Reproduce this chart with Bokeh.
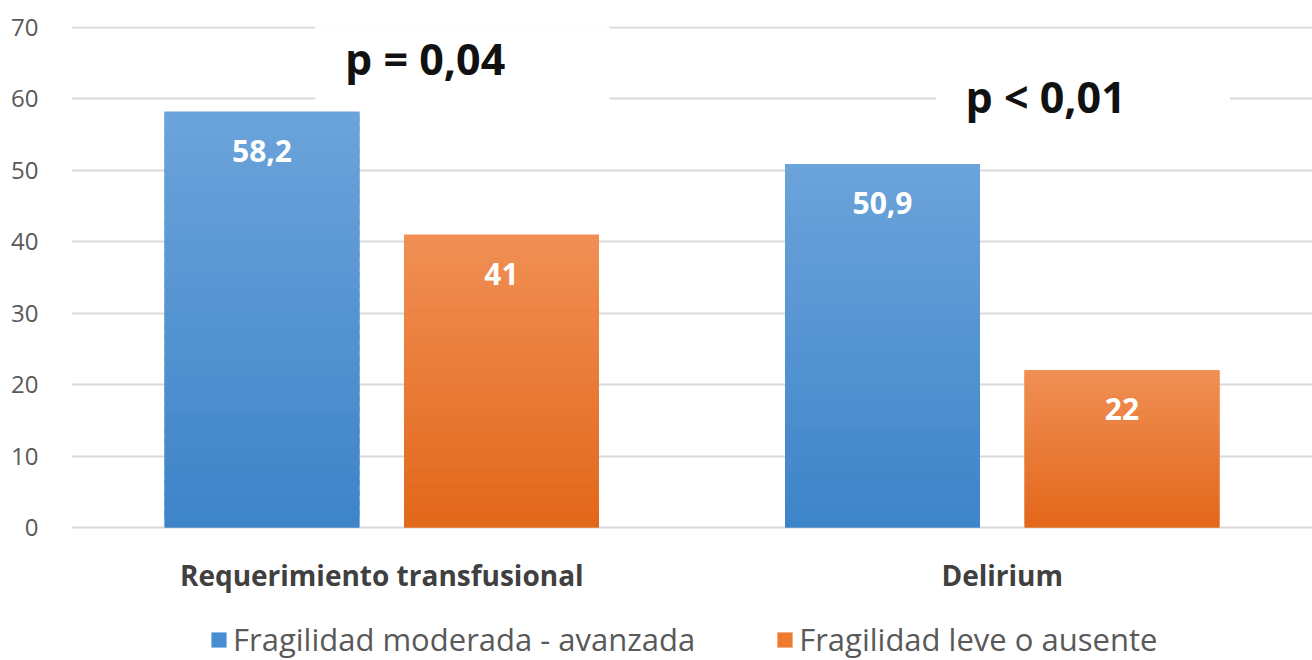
from bokeh.plotting import figure
from bokeh.models import ColumnDataSource, FactorRange, Legend, LegendItem, FixedTicker, Range1d
from bokeh.transform import dodge
from bokeh.core.properties import value
from bokeh.embed import file_html
from bokeh.resources import INLINE

# ---- data ----
categories = ["Requerimiento transfusional", "Delirium"]
series_names = ["Fragilidad moderada - avanzada", "Fragilidad leve o ausente"]
moderada = [58.2, 50.9]
leve = [41, 22]
p_labels = ["p = 0,04", "p < 0,01"]
y_ticks = [0, 10, 20, 30, 40, 50, 60, 70]

FONT = "Open Sans"

def fmt(v):
    return f"{v:g}".replace(".", ",")

def hex2rgb(h):
    h = h.lstrip("#")
    return tuple(int(h[i:i + 2], 16) for i in (0, 2, 4))

def lerp(c1, c2, t):
    a, b = hex2rgb(c1), hex2rgb(c2)
    return "#%02x%02x%02x" % tuple(int(round(a[i] + (b[i] - a[i]) * t)) for i in range(3))

# frame spans down to the bottom of the canvas so the legend can sit under the categories
p = figure(x_range=FactorRange(*categories), y_range=Range1d(-18.62, 70.14),
           width=1312, height=660, output_backend="svg", toolbar_location=None,
           x_axis_location=None,
           min_border_left=71, min_border_right=0, min_border_top=26, min_border_bottom=0)
p.outline_line_color = None
p.background_fill_color = "white"
p.border_fill_color = "white"

# y axis
p.yaxis.ticker = FixedTicker(ticks=y_ticks)
p.yaxis.axis_line_color = None
p.yaxis.major_tick_line_color = None
p.yaxis.minor_tick_line_color = None
p.yaxis.major_label_standoff = 27
p.yaxis.major_label_text_font = FONT
p.yaxis.major_label_text_font_size = "24px"
p.yaxis.major_label_text_color = "#595959"

p.xgrid.grid_line_color = None
p.ygrid.grid_line_color = "#d9d9d9"
p.ygrid.grid_line_width = 2

BAR_W = 0.314
OFF = 0.193
N = 40

# p-value annotations: white boxes over the grid (drawn beneath the bars)
box_src = ColumnDataSource(dict(x=categories, y=[65, 60], h=[14, 9]))
p.rect(x=dodge("x", 0.13, range=p.x_range), y="y", width=0.474, height="h",
       source=box_src, fill_color="white", line_color=None)

series = [
    (moderada, -OFF, "#6ca3db", "#3d84c8", "#4a8dd2"),
    (leve, OFF, "#f08f55", "#e2671a", "#ee7a30"),
]

legend_items = []
for (vals, off, top_c, bot_c, solid), name in zip(series, series_names):
    base = ColumnDataSource(dict(x=categories, top=vals))
    r = p.vbar(x=dodge("x", off, range=p.x_range), top="top", bottom=0, width=BAR_W,
               source=base, fill_color=solid, line_color=None)
    legend_items.append(LegendItem(label=name, renderers=[r]))
    xs, bots, tops, cols = [], [], [], []
    for cat, v in zip(categories, vals):
        for k in range(N):
            xs.append(cat)
            bots.append(v * k / N)
            tops.append(min(v, v * (k + 1.6) / N))
            cols.append(lerp(bot_c, top_c, (k + 0.5) / N))
    gs = ColumnDataSource(dict(x=xs, bottom=bots, top=tops, color=cols))
    p.vbar(x=dodge("x", off, range=p.x_range), top="top", bottom="bottom", width=BAR_W,
           source=gs, fill_color="color", line_color=None)
    ls = ColumnDataSource(dict(x=categories, y=vals, t=[fmt(v) for v in vals]))
    p.text(x=dodge("x", off, range=p.x_range), y="y", text="t", source=ls,
           y_offset=39, text_align="center", text_baseline="middle",
           text_color="white", text_font=value(FONT), text_font_size="30px",
           text_font_style="bold")

pt_src = ColumnDataSource(dict(x=categories, y=[65.6, 60.4], t=p_labels))
p.text(x=dodge("x", 0.07, range=p.x_range), y="y", text="t", source=pt_src,
       text_align="center", text_baseline="middle", text_color="#111111",
       text_font=value(FONT), text_font_size="43px", text_font_style="bold")

# category labels under the bars
cat_src = ColumnDataSource(dict(x=categories, y=[0, 0]))
p.text(x="x", y="y", text="x", source=cat_src, y_offset=47,
       text_align="center", text_baseline="middle", text_color="#404040",
       text_font=value(FONT), text_font_size="28px", text_font_style="bold")

legend = Legend(items=legend_items, orientation="horizontal", location=(138, 0),
                glyph_width=19, glyph_height=19, label_standoff=5, spacing=80,
                padding=0, margin=0, border_line_color=None, background_fill_alpha=0,
                label_text_font=FONT, label_text_font_size="31px",
                label_text_color="#595959")
p.add_layout(legend, "center")

open("out.html", "w").write(file_html(p, INLINE))
